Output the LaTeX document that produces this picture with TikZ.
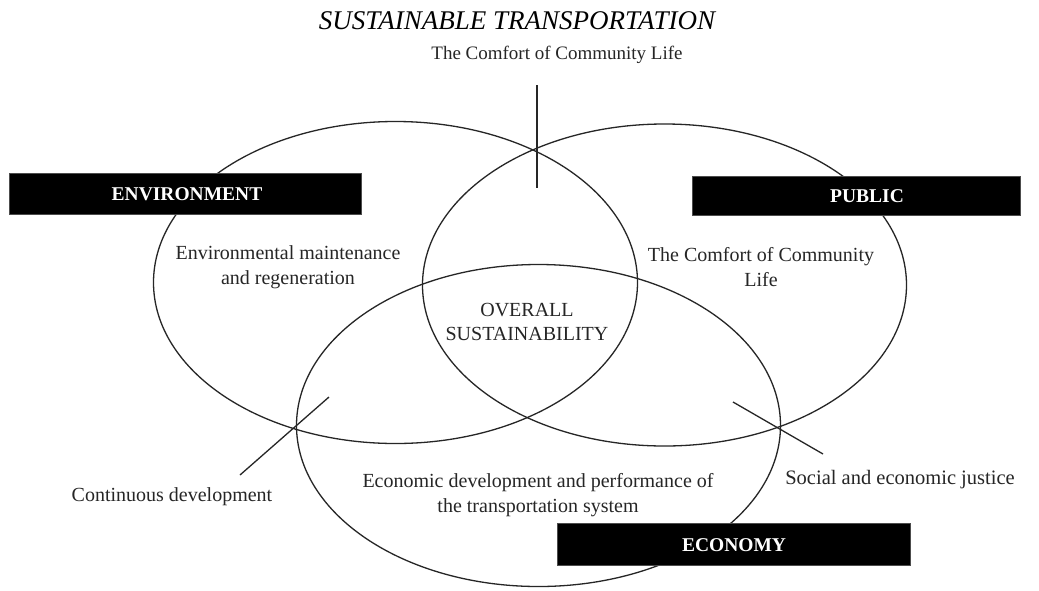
\documentclass[tikz,border=0pt]{standalone}
\usepackage{fontspec}
\setmainfont{Liberation Serif}
\usetikzlibrary{shapes.geometric}
\begin{document}
\begin{tikzpicture}[x=1pt,y=-1pt,
  ring/.style={draw=black!85, line width=1.3pt, ellipse, minimum width=484pt, minimum height=322pt, inner sep=0pt},
  tagbox/.style={fill=black, draw=black!70, line width=0.6pt, inner sep=0pt},
  tagtext/.style={text=white, font=\fontsize{19.5}{20}\selectfont\bfseries, inner sep=0pt},
  lbl/.style={text=black!85, font=\fontsize{20}{25}\selectfont, align=center, inner sep=0pt},
  lead/.style={draw=black!85, line width=1.3pt}]
\useasboundingbox (0,0) rectangle (1039,590);
\fill[white] (0,0) rectangle (1039,590);

% three circles
\node[ring] (env) at (395.5,282.5) {};
\node[ring] (pub) at (664.5,285) {};
\node[ring] (eco) at (538.5,425.5) {};

% leader lines
\coordinate (topA) at (537,85);
\coordinate (topB) at (537,188);
\coordinate (leftA) at (329,397);
\coordinate (leftB) at (240,475);
\coordinate (rightA) at (733,402);
\coordinate (rightB) at (823,454);
\draw[lead] (topA) -- (topB);
\draw[lead] (leftA) -- (leftB);
\draw[lead] (rightA) -- (rightB);

% black label boxes
\node[tagbox, minimum width=352pt, minimum height=41pt] (envbox) at (185,193.5) {};
\node[tagtext] (envname) at (187,194) {ENVIRONMENT};
\node[tagbox, minimum width=328pt, minimum height=39pt] (pubbox) at (856,195.5) {};
\node[tagtext] (pubname) at (867,196) {PUBLIC};
\node[tagbox, minimum width=353pt, minimum height=42pt] (ecobox) at (733.5,544) {};
\node[tagtext] (econame) at (734,545) {ECONOMY};

% texts
\node[lbl, font=\fontsize{27}{28}\selectfont\itshape, text=black] (title) at (517,21) {SUSTAINABLE TRANSPORTATION};
\node[lbl, font=\fontsize{19}{24}\selectfont] (toplbl) at (557,55) {The Comfort of Community Life};
\node[lbl] (envlbl) at (288,267.5) {Environmental maintenance\\and regeneration};
\node[lbl] (publbl) at (761,267.5) {The Comfort of Community\\Life};
\node[lbl, font=\fontsize{20}{24}\selectfont] (overall) at (527,321.5) {OVERALL\\SUSTAINABILITY};
\node[lbl] (ecolbl) at (538,495.5) {Economic development and performance of\\the transportation system};
\node[lbl] (cont) at (172,497) {Continuous development};
\node[lbl, font=\fontsize{20.5}{25}\selectfont] (social) at (900,480) {Social and economic justice};
\end{tikzpicture}
\end{document}
